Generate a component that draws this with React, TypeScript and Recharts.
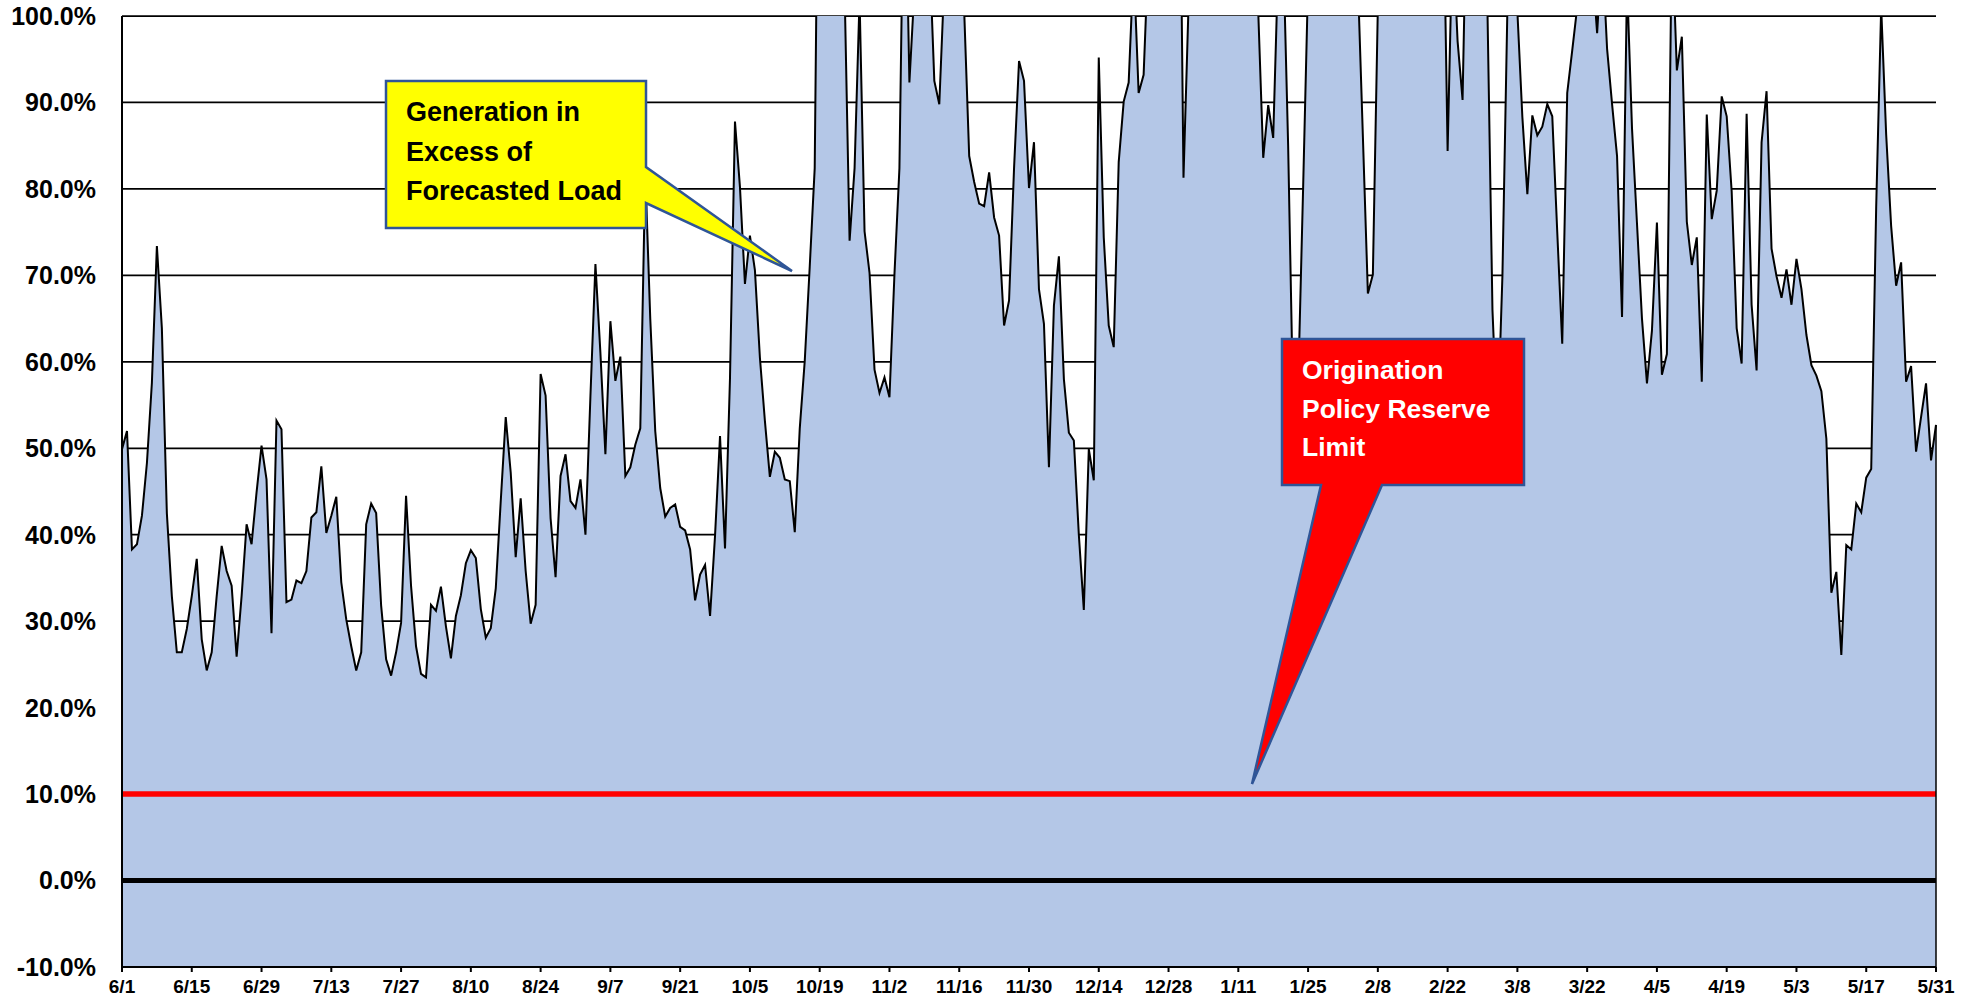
import React from 'react';
import { AreaChart, Area, XAxis, YAxis, CartesianGrid, ReferenceLine } from 'recharts';

// Months of the June-May year and their day counts (category labels "m/d")
const monthNumbers = [6, 7, 8, 9, 10, 11, 12, 1, 2, 3, 4, 5];
const monthDays = [30, 31, 31, 30, 31, 30, 31, 31, 28, 31, 30, 31];

// Daily reserve margin (% of forecasted load), 6/1 .. 5/31
const reserveMargin = [
  49.9, 52.0, 38.3, 38.9, 42.2, 48.3, 57.6, 73.4, 63.9, 42.5,
  32.9, 26.4, 26.4, 29.1, 32.9, 37.2, 27.9, 24.3, 26.4, 32.9,
  38.7, 35.8, 34.1, 25.9, 32.9, 41.2, 38.9, 44.9, 50.3, 46.4,
  28.6, 53.2, 52.2, 32.2, 32.5, 34.7, 34.4, 35.8, 42.0, 42.6,
  47.9, 40.2, 42.2, 44.4, 34.5, 30.2, 27.1, 24.3, 26.4, 41.2,
  43.6, 42.5, 31.8, 25.6, 23.7, 26.4, 29.8, 44.5, 34.1, 27.1,
  23.9, 23.5, 31.9, 31.2, 34.0, 29.4, 25.7, 30.6, 33.0, 36.7,
  38.2, 37.3, 31.4, 28.1, 29.2, 33.8, 43.9, 53.6, 47.2, 37.4,
  44.2, 35.8, 29.7, 31.9, 58.6, 56.1, 41.9, 35.1, 46.8, 49.3,
  43.9, 43.1, 46.4, 40.0, 56.1, 71.3, 61.0, 49.3, 64.7, 57.8,
  60.6, 46.8, 47.8, 50.4, 52.3, 82.0, 65.0, 52.0, 45.4, 42.1,
  43.1, 43.5, 40.9, 40.5, 38.3, 32.4, 35.4, 36.5, 30.6, 39.9,
  51.4, 38.4, 58.1, 87.8, 80.2, 69.0, 74.6, 70.6, 60.5, 53.2,
  46.7, 49.6, 48.9, 46.4, 46.2, 40.3, 52.3, 60.1, 71.0, 82.4,
  140, 155, 160, 150, 130, 103, 74.0, 82.4, 102, 75.1,
  70.3, 59.1, 56.4, 58.2, 55.9, 70.1, 82.4, 123, 92.3, 103,
  120, 120, 108, 92.5, 89.8, 104, 115, 125, 112, 100.5,
  83.8, 80.8, 78.3, 78.0, 81.9, 76.7, 74.6, 64.2, 67.1, 82.4,
  94.8, 92.5, 80.1, 85.4, 68.4, 64.4, 47.8, 66.5, 72.2, 58.0,
  51.8, 50.9, 40.0, 31.3, 49.9, 46.3, 95.2, 74.4, 64.2, 61.7,
  83.1, 90.1, 92.3, 106, 91.1, 93.2, 108, 118, 125, 130,
  125, 125, 135, 81.3, 101, 115, 130, 140, 135, 145,
  140, 150, 140, 135, 140, 130, 120, 110, 100.5, 83.6,
  89.7, 85.9, 106, 108, 85, 55, 57, 80, 104, 115,
  130, 140, 135, 140, 130, 125, 115, 110, 104, 86,
  67.9, 70.1, 101, 115, 130, 140, 150, 145, 150, 140,
  145, 135, 140, 130, 125, 120, 84.4, 110, 97.1, 90.3,
  120, 130, 120, 110, 100.5, 66, 52, 70, 101, 110,
  100.5, 88.3, 79.4, 88.5, 86.2, 87.2, 89.8, 88.4, 75, 62.1,
  91.1, 96, 101, 115, 112, 106, 98, 108, 96.2, 89.8,
  83.8, 65.2, 104, 87, 76, 65, 57.5, 63.6, 76.1, 58.5,
  60.9, 110, 93.7, 97.6, 76.2, 71.2, 74.4, 57.7, 88.6, 76.5,
  79.8, 90.7, 88.4, 79.7, 63.9, 59.8, 88.7, 66.6, 59.0, 85.4,
  91.3, 73.1, 69.9, 67.4, 70.7, 66.6, 71.9, 68.4, 63.1, 59.6,
  58.4, 56.6, 51.1, 33.3, 35.7, 26.1, 38.8, 38.3, 43.6, 42.6,
  46.6, 47.6, 78, 101, 86.3, 75.7, 68.8, 71.5, 57.7, 59.5,
  49.6, 53.6, 57.5, 48.6, 52.7,
];

const yTicks = [-10, 0, 10, 20, 30, 40, 50, 60, 70, 80, 90, 100];
const policyReserveLimit = 10;
const zeroLine = 0;

const dateLabels: string[] = [];
monthNumbers.forEach((m, i) => {
  for (let d = 1; d <= monthDays[i]; d++) dateLabels.push(`${m}/${d}`);
});

const data = dateLabels.map((date, i) => ({ date, margin: reserveMargin[i] }));
const lastDate = dateLabels[dateLabels.length - 1];
const lastValue = reserveMargin[reserveMargin.length - 1];

const FONT = "'Liberation Sans', Arial, sans-serif";

export default function App() {
  return (
    <div style={{ position: 'fixed', left: 0, top: 0, width: 1976, height: 1005, background: '#fff' }}>
      <AreaChart
        width={1976}
        height={1005}
        data={data}
        margin={{ top: 16, right: 40, bottom: 0, left: 0 }}
      >
        <CartesianGrid horizontal vertical={false} stroke="#000" strokeWidth={1.75} />
        <XAxis
          dataKey="date"
          interval={13}
          height={38}
          tickSize={5}
          tickMargin={8}
          axisLine={{ stroke: '#000', strokeWidth: 2 }}
          tickLine={{ stroke: '#000', strokeWidth: 2 }}
          tick={{ fill: '#000', fontSize: 19, fontWeight: 700, fontFamily: FONT }}
        />
        <YAxis
          type="number"
          domain={[-10, 100]}
          ticks={yTicks}
          allowDataOverflow
          width={122}
          tickLine={false}
          tickSize={0}
          tickMargin={26}
          axisLine={{ stroke: '#000', strokeWidth: 2 }}
          tickFormatter={(v: number) => `${v.toFixed(1)}%`}
          tick={{ fill: '#000', fontSize: 25, fontWeight: 700, fontFamily: FONT }}
        />
        <Area
          type="linear"
          dataKey="margin"
          stroke="#000"
          strokeWidth={2}
          fill="#B4C7E7"
          fillOpacity={1}
          baseValue={-10}
          dot={false}
          activeDot={false}
          isAnimationActive={false}
        />
        <ReferenceLine y={zeroLine} stroke="#000" strokeWidth={5} />
        <ReferenceLine y={policyReserveLimit} stroke="#FF0000" strokeWidth={5.5} />
        <ReferenceLine
          segment={[{ x: lastDate, y: -10 }, { x: lastDate, y: lastValue }]}
          stroke="#000"
          strokeWidth={1.5}
        />
      </AreaChart>
      <svg
        width={1976}
        height={1005}
        style={{ position: 'absolute', left: 0, top: 0, pointerEvents: 'none' }}
      >
        <path
          d="M386,81 H646 V167 L792,271 L646,203 V228 H386 Z"
          fill="#FFFF00"
          stroke="#2F5597"
          strokeWidth={2.5}
          strokeLinejoin="miter"
        />
        <g fontFamily={FONT} fontWeight={700} fontSize={27} fill="#000">
          <text x={406} y={121}>Generation in</text>
          <text x={406} y={160.5}>Excess of</text>
          <text x={406} y={199.5}>Forecasted Load</text>
        </g>
        <path
          d="M1282,339 H1524 V485 H1382 L1252,784 L1321,485 H1282 Z"
          fill="#FF0000"
          stroke="#2F5597"
          strokeWidth={2.5}
          strokeLinejoin="miter"
        />
        <g fontFamily={FONT} fontWeight={700} fontSize={26.5} fill="#fff">
          <text x={1302} y={379}>Origination</text>
          <text x={1302} y={417.5}>Policy Reserve</text>
          <text x={1302} y={456}>Limit</text>
        </g>
      </svg>
    </div>
  );
}
